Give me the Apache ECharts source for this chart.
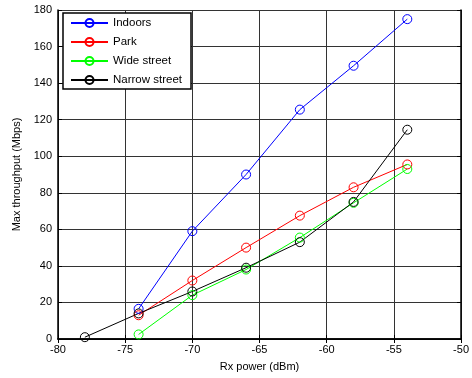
<!DOCTYPE html>
<html>
<head>
<meta charset="utf-8">
<script src="https://cdn.jsdelivr.net/npm/echarts@6/dist/echarts.min.js"></script>
<style>
  html, body { margin: 0; padding: 0; background: #fff; }
  #chart { width: 472px; height: 378px; }
</style>
</head>
<body>
<div id="chart"></div>
<script>
// Rx power (dBm) per series
const xIndoors = [-74, -70, -66, -62, -58, -54]
const xPark = [-74, -70, -66, -62, -58, -54]
const xWide = [-74, -70, -66, -62, -58, -54]
const xNarrow = [-78, -74, -70, -66, -62, -58, -54]

// max throughput (Mbps)
const indoors = [16.5, 59, 90, 125.5, 149.5, 175]
const park = [13, 32, 50, 67.5, 83, 95.5]
const wideStreet = [2.5, 24, 38, 55.5, 74.5, 93]
const narrowStreet = [1, 14, 26, 39, 53, 75, 114.5]

const seriesNames = ['Indoors', 'Park', 'Wide street', 'Narrow street']
const seriesColors = ['#0000ff', '#ff0000', '#00ff00', '#000000']

const font = 'Liberation Sans, Arial, sans-serif'
const chart = echarts.init(document.getElementById('chart'))

function zip(xs, ys) {
  return xs.map((x, i) => [x, ys[i]])
}

function makeSeries(name, color, data) {
  return {
    name,
    type: 'line',
    data,
    symbol: 'circle',
    symbolSize: 9,
    lineStyle: { color, width: 1 },
    itemStyle: { color: 'rgba(0,0,0,0)', borderColor: color, borderWidth: 1 },
    emphasis: { disabled: true },
    animation: false
  }
}

// top/right axes only close the frame
const frameAxis = {
  show: true,
  axisLine: { show: true, lineStyle: { color: '#000', width: 1.5 } },
  axisTick: { show: true, inside: true, length: 4, lineStyle: { color: '#000' } },
  axisLabel: { show: false },
  splitLine: { show: false }
}

chart.setOption({
  backgroundColor: '#fff',
  textStyle: { fontFamily: font },
  grid: { left: 58, right: 8, top: 10, bottom: 39 },
  legend: {
    orient: 'vertical',
    left: 63,
    top: 13,
    backgroundColor: '#fff',
    borderColor: '#000',
    borderWidth: 1.5,
    borderRadius: 0,
    padding: [4, 9, 3, 7],
    itemWidth: 37,
    itemHeight: 10,
    itemGap: 7,
    textStyle: { fontFamily: font, fontSize: 11.5, color: '#000' },
    data: seriesNames
  },
  xAxis: [{
    type: 'value',
    min: -80,
    max: -50,
    interval: 5,
    name: 'Rx power (dBm)',
    nameLocation: 'middle',
    nameGap: 22,
    nameTextStyle: { fontFamily: font, fontSize: 11, color: '#000' },
    axisLine: { show: true, onZero: false, lineStyle: { color: '#000', width: 1.5 } },
    axisTick: { show: true, inside: true, length: 4, lineStyle: { color: '#000' } },
    axisLabel: { color: '#000', fontSize: 11, margin: 5, fontFamily: font },
    splitLine: { show: true, lineStyle: { color: '#333', width: 1 } }
  }, Object.assign({ type: 'value', position: 'top', min: -80, max: -50, interval: 5 }, frameAxis)],
  yAxis: [{
    type: 'value',
    min: 0,
    max: 180,
    interval: 20,
    name: 'Max throughput (Mbps)',
    nameLocation: 'middle',
    nameGap: 30,
    nameTextStyle: { fontFamily: font, fontSize: 11, color: '#000' },
    axisLine: { show: true, onZero: false, lineStyle: { color: '#000', width: 1.5 } },
    axisTick: { show: true, inside: true, length: 4, lineStyle: { color: '#000' } },
    axisLabel: { color: '#000', fontSize: 11, margin: 6, fontFamily: font },
    splitLine: { show: true, lineStyle: { color: '#333', width: 1 } }
  }, Object.assign({ type: 'value', position: 'right', min: 0, max: 180, interval: 20 }, frameAxis)],
  series: [
    makeSeries(seriesNames[0], seriesColors[0], zip(xIndoors, indoors)),
    makeSeries(seriesNames[1], seriesColors[1], zip(xPark, park)),
    makeSeries(seriesNames[2], seriesColors[2], zip(xWide, wideStreet)),
    makeSeries(seriesNames[3], seriesColors[3], zip(xNarrow, narrowStreet))
  ]
})
</script>
</body>
</html>
